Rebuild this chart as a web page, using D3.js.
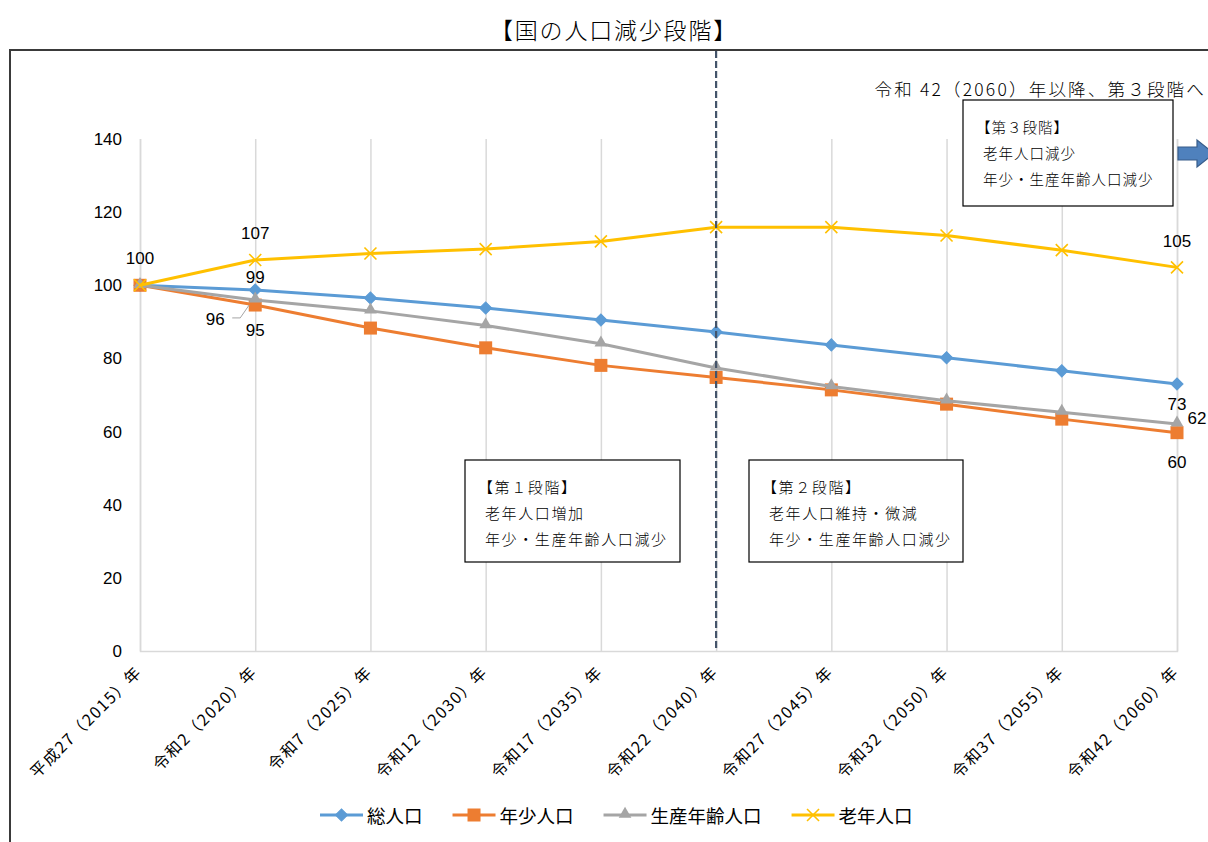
<!DOCTYPE html>
<html>
<head>
<meta charset="utf-8">
<script src="https://cdn.jsdelivr.net/npm/d3@7"></script>
<style>
  body { margin: 0; background: #fff; }
  svg text { font-family: "Noto Sans CJK JP", "Noto Sans", sans-serif; fill: #000; font-weight: 300; }
  .num { font-family: "Liberation Sans", "DejaVu Sans", sans-serif; font-weight: 400; }
  .cat { font-weight: 400; }
</style>
</head>
<body>
<div class="d3Chart"></div>
<script>
// データ
var categories = [
  "平成27（2015）年", "令和2（2020）年", "令和7（2025）年", "令和12（2030）年",
  "令和17（2035）年", "令和22（2040）年", "令和27（2045）年", "令和32（2050）年",
  "令和37（2055）年", "令和42（2060）年"
];
var seriesNames = ["総人口", "年少人口", "生産年齢人口", "老年人口"];
var totalPop   = [100, 98.7, 96.5, 93.8, 90.5, 87.2, 83.7, 80.2, 76.6, 73.0];
var youngPop   = [100, 94.6, 88.3, 82.9, 78.1, 74.8, 71.4, 67.5, 63.4, 59.7];
var workingPop = [100, 96.0, 93.0, 89.0, 84.0, 77.4, 72.3, 68.4, 65.3, 62.1];
var elderlyPop = [100, 106.9, 108.7, 109.9, 112.0, 115.9, 115.9, 113.6, 109.6, 104.9];
var yTicks = [0, 20, 40, 60, 80, 100, 120, 140];

var title = "【国の人口減少段階】";
var noteText = "令和 42（2060）年以降、第３段階へ";
var stageBoxes = [
  { lines: ["【第１段階】", "老年人口増加", "年少・生産年齢人口減少"] },
  { lines: ["【第２段階】", "老年人口維持・微減", "年少・生産年齢人口減少"] },
  { lines: ["【第３段階】", "老年人口減少", "年少・生産年齢人口減少"] }
];

var seriesValues = [totalPop, youngPop, workingPop, elderlyPop];
var colors = ["#5b9bd5", "#ed7d31", "#a5a5a5", "#ffc000"];

// 画布
var width = 1208, height = 842;
var svg = d3.select(".d3Chart").append("svg")
  .attr("width", width).attr("height", height)
  .style("display", "block");

// 外枠
svg.append("rect")
  .attr("x", 10).attr("y", 50)
  .attr("width", 1260).attr("height", 850)
  .attr("fill", "none").attr("stroke", "#3a3a3a").attr("stroke-width", 2);

// タイトル
svg.append("text")
  .attr("x", 614).attr("y", 39)
  .attr("text-anchor", "middle")
  .style("font-size", "23px").style("letter-spacing", "1.8px")
  .text(title);

// 比例尺
var xScale = d3.scalePoint().domain(categories).range([140, 1177]);
var yScale = d3.scaleLinear().domain([0, 140]).range([651, 139]);

// 縦グリッド
var grid = svg.append("g").attr("transform", "translate(0,651)")
  .call(d3.axisBottom(xScale).tickSize(-512).tickFormat(""));
grid.select(".domain").attr("stroke", "#d9d9d9").attr("stroke-width", 1.5);
grid.selectAll(".tick line").attr("stroke", "#d9d9d9").attr("stroke-width", 1.5);

// Y軸
var yAxis = svg.append("g").attr("transform", "translate(140,0)")
  .call(d3.axisLeft(yScale).tickValues(yTicks).tickSize(0).tickPadding(18));
yAxis.select(".domain").remove();
yAxis.selectAll("text").attr("class", "num").style("font-size", "17px");

// X軸ラベル
svg.append("g").selectAll("text")
  .data(categories).enter().append("text")
  .attr("class", "cat")
  .attr("transform", function (d) { return "translate(" + (xScale(d) + 3) + ",673) rotate(-45)"; })
  .attr("text-anchor", "end")
  .style("font-size", "16px").style("letter-spacing", "1.5px")
  .text(function (d) { return d; });

// 系列
var line = d3.line()
  .x(function (d, i) { return xScale(categories[i]); })
  .y(function (d) { return yScale(d); });

function drawMarker(sel, s, color) {
  if (s === 0) {
    sel.append("rect").attr("x", -4.3).attr("y", -4.3).attr("width", 8.6).attr("height", 8.6)
      .attr("transform", "rotate(45)").attr("fill", color).attr("stroke", color).attr("stroke-width", 1);
  } else if (s === 1) {
    sel.append("rect").attr("x", -6.5).attr("y", -6.5).attr("width", 13).attr("height", 13)
      .attr("fill", color);
  } else if (s === 2) {
    sel.append("path").attr("d", d3.symbol().type(d3.symbolTriangle).size(70)())
      .attr("transform", "translate(0,-1)").attr("fill", color);
  } else {
    sel.append("path").attr("d", "M-6,-6L6,6M6,-6L-6,6")
      .attr("stroke", color).attr("stroke-width", 1.6).attr("fill", "none");
  }
}

seriesValues.forEach(function (vals, s) {
  var g = svg.append("g");
  g.append("path").datum(vals)
    .attr("d", line).attr("fill", "none")
    .attr("stroke", colors[s]).attr("stroke-width", 3).attr("stroke-linejoin", "round");
  g.selectAll("g.m").data(vals).enter().append("g")
    .attr("transform", function (d, i) { return "translate(" + xScale(categories[i]) + "," + yScale(d) + ")"; })
    .each(function () { drawMarker(d3.select(this), s, colors[s]); });
});

// データラベル
var labelSpec = [
  { s: 3, i: 0, dx: 0, dy: -27 }, { s: 3, i: 1, dx: 0, dy: -27 }, { s: 3, i: 9, dx: 0, dy: -26 },
  { s: 0, i: 1, dx: 0, dy: -13 }, { s: 0, i: 9, dx: 0, dy: 20 },
  { s: 1, i: 1, dx: 0, dy: 25 }, { s: 1, i: 9, dx: 0, dy: 30 },
  { s: 2, i: 1, dx: -40, dy: 20, leader: true }, { s: 2, i: 9, dx: 20, dy: -5 }
];
labelSpec.forEach(function (l) {
  var px = xScale(categories[l.i]), py = yScale(seriesValues[l.s][l.i]);
  if (l.leader) {
    svg.append("path")
      .attr("d", "M" + (px + l.dx + 17) + "," + (py + l.dy - 2) + "h8L" + (px - 6) + "," + (py + 5))
      .attr("fill", "none").attr("stroke", "#a5a5a5").attr("stroke-width", 1);
  }
  svg.append("text").attr("class", "num")
    .attr("x", px + l.dx).attr("y", py + l.dy)
    .attr("text-anchor", "middle").attr("dominant-baseline", "central")
    .style("font-size", "17px")
    .text(d3.format(".0f")(seriesValues[l.s][l.i]));
});

// 区切り破線（令和22年）
var xDiv = xScale(categories[5]);
svg.append("line")
  .attr("x1", xDiv).attr("x2", xDiv).attr("y1", 51).attr("y2", 651)
  .attr("stroke", "#44546a").attr("stroke-width", 2.2).attr("stroke-dasharray", "7,3");

// 段階ボックス
var boxPos = [
  { x: 465, y: 460, w: 215, h: 102, fs: 15, ls: 1.6 },
  { x: 749, y: 460, w: 214, h: 102, fs: 15, ls: 1.6 },
  { x: 963, y: 100, w: 210, h: 106, fs: 14.5, ls: 1 }
];
stageBoxes.forEach(function (b, k) {
  var p = boxPos[k];
  var g = svg.append("g").attr("transform", "translate(" + p.x + "," + p.y + ")");
  g.append("rect").attr("width", p.w).attr("height", p.h)
    .attr("fill", "#fff").attr("stroke", "#000").attr("stroke-width", 1.2);
  g.selectAll("text").data(b.lines).enter().append("text")
    .attr("x", function (d, i) { return i === 0 ? 13 : 20; })
    .attr("y", function (d, i) { return 33 + i * 26; })
    .style("font-size", p.fs + "px").style("letter-spacing", p.ls + "px")
    .text(function (d) { return d; });
});

// 注記と矢印
svg.append("text")
  .attr("x", 1206).attr("y", 96).attr("text-anchor", "end")
  .style("font-size", "17.5px").style("letter-spacing", "2.2px")
  .text(noteText);
svg.append("path")
  .attr("d", "M1178,147H1197V140L1214,153.5L1197,167V160H1178Z")
  .attr("fill", "#4f81bd").attr("stroke", "#385d8a").attr("stroke-width", 1.2);

// 凡例
var legend = svg.append("g").attr("transform", "translate(320,815)");
var lx = 0;
seriesNames.forEach(function (name, s) {
  var g = legend.append("g").attr("transform", "translate(" + lx + ",0)");
  g.append("line").attr("x1", 0).attr("x2", 43).attr("stroke", colors[s]).attr("stroke-width", 3);
  var m = g.append("g").attr("transform", "translate(21.5,0)");
  drawMarker(m, s, colors[s]);
  var t = g.append("text").attr("x", 47).attr("dominant-baseline", "central")
    .style("font-size", "18.5px").style("font-weight", "400").text(name);
  lx += 47 + t.node().getComputedTextLength() + 30;
});
</script>
</body>
</html>
